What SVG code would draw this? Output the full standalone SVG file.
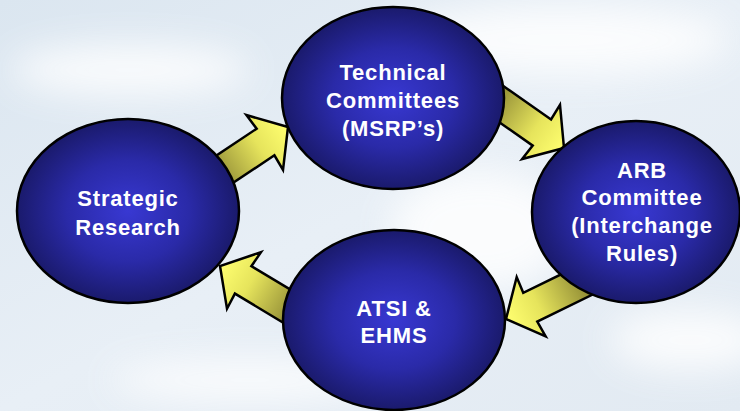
<svg xmlns="http://www.w3.org/2000/svg" width="740" height="411" viewBox="0 0 740 411">
  <defs>
    <linearGradient id="bg" x1="0" y1="0" x2="1" y2="1">
      <stop offset="0" stop-color="#dbe6f0"/>
      <stop offset="0.5" stop-color="#e8eff6"/>
      <stop offset="1" stop-color="#e2eaf2"/>
    </linearGradient>
    <filter id="blur" x="-50%" y="-50%" width="200%" height="200%">
      <feGaussianBlur stdDeviation="18"/>
    </filter>
    <radialGradient id="ball" cx="0.5" cy="0.5" r="0.5">
      <stop offset="0" stop-color="#3838d2"/>
      <stop offset="0.55" stop-color="#2a2aa8"/>
      <stop offset="1" stop-color="#1a1a6c"/>
    </radialGradient>
    <linearGradient id="arr" x1="0" y1="0" x2="1" y2="0">
      <stop offset="0" stop-color="#7a7628"/>
      <stop offset="0.3" stop-color="#aca842"/>
      <stop offset="0.65" stop-color="#e6e45c"/>
      <stop offset="1" stop-color="#ffff70"/>
    </linearGradient>
    <path id="arrow" d="M0,0 L-28,-33 L-27,-16 L-100,-16 L-100,16 L-27,16 L-28,33 Z"/>
    <style>
      .node { fill: url(#ball); stroke: #000; stroke-width: 2.5; }
      .lbl { font-family: "Liberation Sans", Arial, sans-serif; font-weight: bold; font-size: 22px; letter-spacing: 0.8px; fill: #ffffff; text-anchor: middle; }
      .arrow { fill: url(#arr); stroke: #000; stroke-width: 2.5; stroke-linejoin: miter; }
    </style>
  </defs>

  <rect width="740" height="411" fill="url(#bg)"/>
  <g filter="url(#blur)" fill="#ffffff" opacity="0.85">
    <ellipse cx="560" cy="40" rx="170" ry="35"/>
    <ellipse cx="130" cy="70" rx="120" ry="25"/>
    <ellipse cx="480" cy="230" rx="90" ry="60"/>
    <ellipse cx="250" cy="380" rx="140" ry="20"/>
    <ellipse cx="690" cy="340" rx="80" ry="30"/>
  </g>

  <g id="connectors">
    <use href="#arrow" class="arrow" transform="translate(288,127) rotate(-33.7)"/>
    <use href="#arrow" class="arrow" transform="translate(564,148) rotate(35)"/>
    <use href="#arrow" class="arrow" transform="translate(506,319) rotate(154)"/>
    <use href="#arrow" class="arrow" transform="translate(220,266) rotate(211)"/>
  </g>

  <g id="technical-committees">
    <ellipse class="node" cx="393" cy="98" rx="111" ry="91"/>
    <text class="lbl" x="393" y="80">Technical</text>
    <text class="lbl" x="393" y="108">Committees</text>
    <text class="lbl" x="393" y="136">(MSRP’s)</text>
  </g>

  <g id="strategic-research">
    <ellipse class="node" cx="128" cy="211" rx="111" ry="92"/>
    <text class="lbl" x="128" y="206">Strategic</text>
    <text class="lbl" x="128" y="235">Research</text>
  </g>

  <g id="arb-committee">
    <ellipse class="node" cx="636" cy="212" rx="104" ry="91"/>
    <text class="lbl" x="642" y="178">ARB</text>
    <text class="lbl" x="642" y="205">Committee</text>
    <text class="lbl" x="642" y="233">(Interchange</text>
    <text class="lbl" x="642" y="261">Rules)</text>
  </g>

  <g id="atsi-ehms">
    <ellipse class="node" cx="394" cy="320" rx="111" ry="90"/>
    <text class="lbl" x="394" y="316">ATSI &amp;</text>
    <text class="lbl" x="394" y="343">EHMS</text>
  </g>
</svg>
